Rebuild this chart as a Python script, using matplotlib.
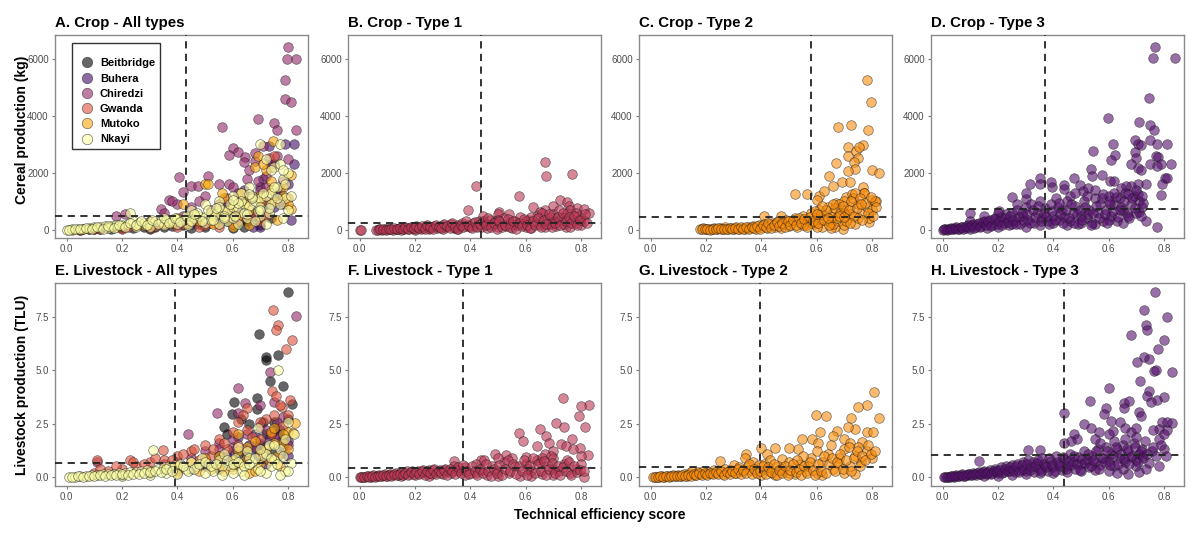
import matplotlib.pyplot as plt
import numpy as np
from matplotlib.lines import Line2D

plt.rcParams['font.family'] = ['Liberation Sans', 'DejaVu Sans']

districts = ['Beitbridge', 'Buhera', 'Chiredzi', 'Gwanda', 'Mutoko', 'Nkayi']
district_colors = ['#000004', '#420A68', '#932667', '#DD513A', '#FCA50A', '#FCFFA4']
type_colors = {'Type 1': '#BB3754', 'Type 2': '#F98C0A', 'Type 3': '#56106E'}

# --- Crop, all types (technical efficiency, cereal kg) per district ---
crop_all = {
    'Beitbridge': np.array([[0.05, 0], [0.12, 20], [0.2, 50], [0.28, 80], [0.35, 100], [0.42, 150], [0.5, 100],
                            [0.55, 200], [0.6, 50], [0.65, 300], [0.7, 150], [0.74, 400], [0.45, 50], [0.3, 30],
                            [0.62, 250], [0.68, 600], [0.72, 900], [0.08, 10], [0.16, 30], [0.24, 60], [0.32, 90],
                            [0.38, 120], [0.48, 200], [0.58, 300], [0.64, 100], [0.7, 400]]),
    'Buhera': np.array([[0.82, 3000], [0.82, 2310], [0.81, 330], [0.70, 93], [0.675, 93], [0.79, 3000], [0.65, 1000],
                        [0.7, 1500], [0.72, 700], [0.75, 800], [0.6, 600], [0.55, 400], [0.5, 300], [0.45, 200],
                        [0.4, 150], [0.3, 100], [0.2, 60], [0.1, 20], [0.76, 1200], [0.68, 500], [0.78, 900],
                        [0.73, 2950], [0.64, 1400], [0.58, 900], [0.35, 200], [0.48, 350], [0.53, 600], [0.62, 800],
                        [0.67, 1100], [0.71, 1800], [0.74, 2300], [0.77, 1400], [0.8, 1600]]),
    'Chiredzi': np.array([[0.80, 6420], [0.795, 6020], [0.83, 6020], [0.79, 5260], [0.79, 4610], [0.81, 4500],
                          [0.69, 3910], [0.56, 3620], [0.75, 3760], [0.76, 3500], [0.83, 3500], [0.60, 2890],
                          [0.62, 2720], [0.645, 2570], [0.585, 2640], [0.68, 2430], [0.73, 2540], [0.75, 2310],
                          [0.405, 1840], [0.51, 1900], [0.42, 1320], [0.45, 1540], [0.475, 1540], [0.37, 1030],
                          [0.34, 740], [0.21, 560], [0.18, 500], [0.55, 1600], [0.585, 1600], [0.35, 600],
                          [0.4, 900], [0.38, 1000], [0.45, 800], [0.5, 1200], [0.55, 900], [0.6, 1500], [0.62, 1300],
                          [0.65, 1800], [0.66, 2100], [0.7, 1400], [0.72, 1900], [0.74, 2200], [0.76, 2600],
                          [0.58, 1100], [0.64, 2400], [0.68, 2700], [0.71, 2950], [0.77, 1000], [0.8, 2500],
                          [0.3, 300], [0.42, 500], [0.52, 700], [0.57, 800], [0.63, 1000], [0.67, 1200],
                          [0.72, 1500], [0.78, 1700], [0.69, 1700], [0.48, 1000]]),
    'Gwanda': np.array([[0.1, 10], [0.2, 30], [0.3, 60], [0.4, 100], [0.5, 150], [0.6, 200], [0.7, 300],
                        [0.55, 80], [0.65, 400], [0.25, 120], [0.35, 200], [0.45, 300], [0.75, 2600], [0.8, 1100],
                        [0.72, 1000], [0.15, 80], [0.05, 0], [0.12, 40], [0.22, 80], [0.32, 120], [0.42, 200],
                        [0.52, 250], [0.62, 300], [0.67, 500], [0.72, 500], [0.58, 400], [0.48, 100]]),
    'Mutoko': np.array([[0.02, 0], [0.06, 30], [0.1, 60], [0.15, 100], [0.2, 120], [0.25, 180], [0.3, 200],
                        [0.35, 250], [0.4, 400], [0.42, 900], [0.5, 1600], [0.51, 1610], [0.55, 600], [0.6, 800],
                        [0.65, 1000], [0.7, 1200], [0.745, 3130], [0.76, 360], [0.81, 1940], [0.81, 735],
                        [0.72, 2100], [0.68, 2200], [0.78, 1500], [0.75, 1000], [0.62, 500], [0.48, 300],
                        [0.57, 1100], [0.69, 2600], [0.74, 1700], [0.66, 700], [0.08, 20], [0.18, 80], [0.28, 150],
                        [0.38, 220], [0.44, 250], [0.46, 500], [0.52, 500], [0.58, 700], [0.64, 900], [0.7, 1000],
                        [0.74, 1400], [0.78, 1200], [0.8, 900], [0.63, 1300], [0.56, 1300], [0.71, 2300],
                        [0.53, 200], [0.6, 100], [0.66, 150]]),
    'Nkayi': np.array([[0.0, 0], [0.02, 10], [0.04, 20], [0.06, 40], [0.08, 60], [0.1, 80], [0.12, 100],
                       [0.14, 120], [0.16, 140], [0.18, 160], [0.2, 180], [0.22, 200], [0.24, 300], [0.23, 580],
                       [0.26, 220], [0.28, 250], [0.3, 280], [0.32, 300], [0.34, 320], [0.36, 350], [0.38, 300],
                       [0.4, 380], [0.42, 350], [0.44, 400], [0.46, 420], [0.48, 500], [0.5, 450], [0.52, 600],
                       [0.54, 550], [0.56, 700], [0.58, 650], [0.6, 800], [0.62, 750], [0.64, 900], [0.66, 850],
                       [0.68, 1000], [0.7, 1100], [0.72, 1200], [0.74, 1300], [0.76, 1500], [0.78, 1800],
                       [0.8, 2000], [0.75, 2200], [0.77, 2300], [0.72, 2500], [0.70, 3000], [0.77, 3000],
                       [0.66, 1500], [0.63, 1300], [0.6, 1200], [0.55, 1000], [0.45, 700], [0.5, 900], [0.58, 300],
                       [0.62, 200], [0.65, 400], [0.7, 500], [0.73, 600], [0.35, 150], [0.25, 100], [0.15, 50],
                       [0.3, 100], [0.4, 200], [0.5, 250], [0.55, 200], [0.6, 400], [0.68, 300], [0.72, 200],
                       [0.8, 700], [0.78, 400], [0.44, 150], [0.52, 350], [0.57, 500], [0.64, 600], [0.7, 800],
                       [0.74, 900], [0.67, 1200], [0.79, 1100],
                       [0.01, 0], [0.03, 20], [0.05, 10], [0.07, 60], [0.09, 30], [0.11, 90], [0.13, 40],
                       [0.15, 130], [0.17, 70], [0.19, 180], [0.21, 110], [0.23, 230], [0.25, 150], [0.27, 300],
                       [0.29, 180], [0.31, 330], [0.33, 200], [0.35, 400], [0.37, 240], [0.39, 430], [0.41, 260],
                       [0.43, 500], [0.45, 300], [0.47, 600], [0.49, 320], [0.51, 700], [0.53, 350], [0.55, 800],
                       [0.57, 400], [0.59, 900], [0.61, 500], [0.63, 1000], [0.65, 550], [0.67, 1100], [0.69, 650],
                       [0.71, 1300], [0.73, 750], [0.75, 1500], [0.77, 900], [0.79, 1600], [0.81, 1200],
                       [0.46, 550], [0.54, 750], [0.62, 950], [0.7, 700], [0.76, 1100], [0.78, 2100], [0.74, 2100],
                       [0.6, 1050], [0.66, 1250]]),
}

# --- Crop by farm type ---
crop_t1 = np.array([
    [0.0, 0], [0.005, 0], [0.06, 0], [0.07, 10], [0.08, 0], [0.09, 20], [0.10, 10], [0.11, 30], [0.12, 0],
    [0.13, 40], [0.14, 20], [0.15, 50], [0.16, 10], [0.17, 60], [0.18, 30], [0.19, 80], [0.20, 40], [0.21, 100],
    [0.22, 20], [0.23, 70], [0.24, 120], [0.25, 50], [0.26, 90], [0.27, 140], [0.28, 60], [0.29, 110],
    [0.30, 170], [0.31, 80], [0.32, 130], [0.33, 200], [0.34, 60], [0.35, 150], [0.36, 100], [0.37, 250],
    [0.38, 120], [0.39, 180], [0.40, 80], [0.41, 220], [0.42, 140], [0.43, 300], [0.15, 0], [0.2, 0],
    [0.25, 10], [0.3, 20], [0.35, 30], [0.42, 1540], [0.39, 680], [0.445, 470], [0.505, 640], [0.50, 560],
    [0.54, 560], [0.575, 1200], [0.668, 2390], [0.674, 1900], [0.768, 1960], [0.628, 790], [0.724, 1060],
    [0.748, 990], [0.755, 850], [0.785, 770], [0.81, 735], [0.83, 600], [0.80, 410], [0.70, 830], [0.67, 680],
    [0.65, 640], [0.77, 330], [0.744, 93], [0.44, 100], [0.45, 250], [0.46, 50], [0.47, 350], [0.48, 150],
    [0.49, 300], [0.50, 80], [0.51, 200], [0.52, 400], [0.53, 120], [0.54, 250], [0.55, 60], [0.56, 300],
    [0.57, 150], [0.58, 450], [0.59, 200], [0.60, 100], [0.61, 350], [0.62, 50], [0.63, 250], [0.64, 500],
    [0.65, 150], [0.66, 300], [0.67, 80], [0.68, 400], [0.69, 200], [0.70, 550], [0.71, 120], [0.72, 300],
    [0.73, 450], [0.74, 200], [0.75, 600], [0.76, 100], [0.77, 350], [0.78, 250], [0.79, 500], [0.80, 150],
    [0.81, 300], [0.46, 200], [0.5, 350], [0.55, 200], [0.6, 300], [0.62, 450], [0.66, 600], [0.68, 200],
    [0.7, 300], [0.72, 700], [0.74, 400], [0.76, 700], [0.78, 600], [0.69, 450]])
crop_t1_more = np.array([
    [0.065, 5], [0.075, 20], [0.085, 15], [0.095, 5], [0.105, 40], [0.115, 10], [0.125, 50], [0.135, 25],
    [0.145, 60], [0.155, 30], [0.165, 80], [0.175, 20], [0.185, 90], [0.195, 50], [0.205, 120], [0.215, 60],
    [0.225, 140], [0.235, 30], [0.245, 160], [0.255, 80], [0.265, 40], [0.275, 180], [0.285, 100], [0.295, 50],
    [0.305, 200], [0.315, 120], [0.325, 60], [0.335, 250], [0.345, 110], [0.355, 40], [0.365, 180], [0.375, 90],
    [0.385, 300], [0.395, 130], [0.405, 60], [0.415, 280], [0.425, 100], [0.435, 200], [0.445, 300],
    [0.455, 150], [0.465, 420], [0.475, 80], [0.485, 250], [0.495, 30], [0.505, 300], [0.515, 100],
    [0.525, 180], [0.535, 380], [0.545, 100], [0.555, 300], [0.565, 20], [0.575, 250], [0.585, 120],
    [0.595, 380], [0.605, 180], [0.615, 60], [0.625, 300], [0.635, 150], [0.645, 420], [0.655, 80],
    [0.665, 350], [0.675, 200], [0.685, 550], [0.695, 100], [0.705, 250], [0.715, 450], [0.725, 150],
    [0.735, 600], [0.745, 300], [0.755, 450], [0.765, 250], [0.775, 500], [0.785, 180], [0.795, 350],
    [0.815, 550], [0.82, 250]])

crop_t2 = np.array([
    [0.78, 5250], [0.797, 4500], [0.786, 3500], [0.678, 3600], [0.725, 3700], [0.714, 2920], [0.713, 2600],
    [0.742, 2780], [0.766, 2990], [0.754, 2920], [0.749, 2520], [0.733, 2370], [0.67, 2360], [0.74, 2150],
    [0.798, 2100], [0.824, 2010], [0.714, 2050], [0.644, 1900], [0.66, 1550], [0.692, 1690], [0.72, 1670],
    [0.766, 1490], [0.52, 1260], [0.565, 1260], [0.61, 1200], [0.626, 1350], [0.60, 1030], [0.706, 1140],
    [0.728, 1260], [0.772, 1280], [0.80, 1030], [0.814, 1000], [0.41, 500], [0.47, 500], [0.788, 290],
    [0.695, 20], [0.665, 90], [0.18, 20], [0.19, 60], [0.2, 10], [0.21, 40], [0.22, 20], [0.23, 50], [0.24, 10],
    [0.25, 60], [0.26, 30], [0.27, 80], [0.28, 20], [0.29, 60], [0.3, 10], [0.31, 90], [0.32, 40], [0.33, 70],
    [0.34, 20], [0.35, 100], [0.36, 50], [0.37, 140], [0.38, 30], [0.39, 180], [0.40, 80], [0.41, 200],
    [0.42, 60], [0.43, 150], [0.44, 250], [0.45, 100], [0.46, 300], [0.47, 50], [0.48, 200], [0.49, 350],
    [0.5, 120], [0.51, 250], [0.52, 400], [0.53, 80], [0.54, 300], [0.55, 500], [0.56, 150], [0.57, 350],
    [0.58, 600], [0.59, 200], [0.6, 450], [0.61, 700], [0.62, 100], [0.63, 500], [0.64, 800], [0.65, 250],
    [0.66, 600], [0.67, 950], [0.68, 300], [0.69, 700], [0.70, 1000], [0.71, 400], [0.72, 800], [0.73, 1100],
    [0.74, 200], [0.75, 900], [0.76, 600], [0.77, 1300], [0.78, 800], [0.79, 400], [0.80, 700], [0.81, 1000],
    [0.60, 80], [0.65, 60], [0.70, 150], [0.75, 400], [0.62, 350], [0.66, 200], [0.72, 550], [0.68, 900],
    [0.74, 1300], [0.7, 600], [0.58, 250], [0.55, 150], [0.5, 300], [0.45, 200]])
crop_t2_more = np.array([
    [0.185, 40], [0.195, 10], [0.205, 30], [0.215, 5], [0.225, 40], [0.235, 20], [0.245, 50], [0.255, 10],
    [0.265, 40], [0.275, 10], [0.285, 50], [0.295, 30], [0.305, 60], [0.315, 20], [0.325, 80], [0.335, 30],
    [0.345, 90], [0.355, 40], [0.365, 100], [0.375, 60], [0.385, 120], [0.395, 40], [0.405, 160], [0.415, 100],
    [0.425, 220], [0.435, 60], [0.445, 180], [0.455, 280], [0.465, 120], [0.475, 220], [0.485, 80],
    [0.495, 300], [0.505, 180], [0.515, 350], [0.525, 150], [0.535, 420], [0.545, 220], [0.555, 380],
    [0.565, 100], [0.575, 450], [0.585, 300], [0.595, 650], [0.605, 250], [0.615, 550], [0.625, 350],
    [0.635, 700], [0.645, 150], [0.655, 450], [0.665, 750], [0.675, 400], [0.685, 600], [0.695, 850],
    [0.705, 300], [0.715, 700], [0.725, 1000], [0.735, 500], [0.745, 750], [0.755, 1100], [0.765, 350],
    [0.775, 950], [0.785, 600], [0.795, 1150], [0.805, 500], [0.815, 800], [0.6, 550], [0.64, 400], [0.68, 500],
    [0.72, 250], [0.76, 900], [0.7, 450], [0.66, 900], [0.62, 850]])

crop_t3 = np.array([
    [0.766, 6440], [0.761, 6035], [0.838, 6035], [0.745, 4620], [0.598, 3925], [0.71, 3790], [0.748, 3700],
    [0.762, 3520], [0.75, 3170], [0.774, 3000], [0.812, 3000], [0.694, 3150], [0.706, 3030], [0.718, 2980],
    [0.615, 3030], [0.544, 2780], [0.624, 2630], [0.61, 2460], [0.694, 2750], [0.697, 2520], [0.682, 2310],
    [0.707, 2170], [0.716, 2110], [0.77, 2600], [0.778, 2550], [0.748, 2310], [0.79, 2310], [0.826, 2310],
    [0.773, 2230], [0.537, 2150], [0.54, 1880], [0.577, 1920], [0.603, 1710], [0.619, 1710], [0.473, 1820],
    [0.396, 1500], [0.392, 1685], [0.352, 1820], [0.351, 1615], [0.314, 1615], [0.44, 1590], [0.438, 1420],
    [0.498, 1590], [0.507, 1360], [0.525, 1480], [0.802, 1820], [0.812, 1820], [0.793, 1615], [0.788, 1210],
    [0.736, 1615], [0.706, 1615], [0.682, 1535], [0.663, 1535], [0.645, 1480], [0.251, 1150], [0.30, 1070],
    [0.30, 1300], [0.268, 900], [0.099, 600], [0.205, 670], [0.736, 320], [0.774, 92], [0.71, 635],
    [0.0, 0], [0.01, 20], [0.02, 10], [0.03, 50], [0.04, 30], [0.05, 80], [0.06, 20], [0.07, 100], [0.08, 60],
    [0.09, 150], [0.10, 40], [0.11, 200], [0.12, 90], [0.13, 250], [0.14, 120], [0.15, 300], [0.16, 60],
    [0.17, 350], [0.18, 180], [0.19, 400], [0.20, 100], [0.21, 450], [0.22, 250], [0.23, 550], [0.24, 150],
    [0.25, 600], [0.26, 300], [0.27, 700], [0.28, 200], [0.29, 500], [0.30, 800], [0.31, 350], [0.32, 900],
    [0.33, 250], [0.34, 600], [0.35, 1000], [0.36, 400], [0.37, 750], [0.38, 300], [0.39, 900], [0.40, 500],
    [0.41, 1100], [0.42, 350], [0.43, 700], [0.44, 450], [0.45, 1000], [0.46, 300], [0.47, 600], [0.48, 850],
    [0.49, 200], [0.50, 500], [0.51, 1000], [0.52, 400], [0.53, 700], [0.54, 250], [0.55, 1100], [0.56, 600],
    [0.57, 900], [0.58, 300], [0.59, 700], [0.60, 1200], [0.61, 500], [0.62, 900], [0.63, 300], [0.64, 1100],
    [0.65, 700], [0.66, 1300], [0.67, 500], [0.68, 900], [0.69, 1200], [0.70, 600], [0.71, 1000], [0.72, 800],
    [0.2, 600], [0.15, 500], [0.1, 300], [0.25, 200], [0.3, 100], [0.35, 150], [0.4, 250], [0.45, 150],
    [0.5, 250], [0.55, 200], [0.6, 350], [0.65, 250]])
crop_t3_more = np.array([
    [0.005, 10], [0.015, 0], [0.025, 30], [0.035, 10], [0.045, 60], [0.055, 40], [0.065, 90], [0.075, 40],
    [0.085, 130], [0.095, 80], [0.105, 170], [0.115, 60], [0.125, 200], [0.135, 110], [0.145, 260],
    [0.155, 150], [0.165, 320], [0.175, 120], [0.185, 380], [0.195, 200], [0.205, 300], [0.215, 150],
    [0.225, 420], [0.235, 280], [0.245, 500], [0.255, 350], [0.265, 200], [0.275, 450], [0.285, 600],
    [0.295, 300], [0.305, 550], [0.315, 250], [0.325, 700], [0.335, 450], [0.345, 850], [0.355, 300],
    [0.365, 600], [0.375, 450], [0.385, 200], [0.395, 650], [0.405, 350], [0.415, 800], [0.425, 550],
    [0.435, 250], [0.445, 700], [0.455, 400], [0.465, 900], [0.475, 250], [0.485, 550], [0.495, 700],
    [0.505, 350], [0.515, 800], [0.525, 550], [0.535, 150], [0.545, 600], [0.555, 850], [0.565, 400],
    [0.575, 1100], [0.585, 550], [0.595, 250], [0.605, 900], [0.615, 650], [0.625, 1150], [0.635, 450],
    [0.645, 800], [0.655, 1000], [0.665, 600], [0.675, 400], [0.685, 1100], [0.695, 750], [0.705, 1250],
    [0.715, 500], [0.725, 950], [0.6, 1000], [0.58, 1250], [0.52, 1200], [0.46, 1200], [0.42, 950],
    [0.48, 1300], [0.55, 1400], [0.62, 1300], [0.67, 1250], [0.7, 1400], [0.72, 1200], [0.64, 700]])

# --- Livestock, all types (technical efficiency, TLU) per district ---
live_all = {
    'Beitbridge': np.array([[0.80, 8.67], [0.696, 6.69], [0.719, 5.64], [0.719, 5.48], [0.764, 5.72], [0.735, 4.5],
                            [0.782, 4.27], [0.687, 3.72], [0.815, 3.44], [0.606, 3.53], [0.596, 2.95], [0.686, 3.2],
                            [0.568, 2.34], [0.6, 0.5], [0.65, 1.0], [0.7, 1.5], [0.72, 2.0], [0.66, 2.5],
                            [0.55, 1.0], [0.5, 0.6], [0.4, 0.3], [0.3, 0.2], [0.2, 0.1], [0.75, 2.6], [0.78, 1.8],
                            [0.55, 0.4], [0.62, 1.1], [0.68, 1.3], [0.74, 1.2], [0.63, 2.7], [0.58, 2.0],
                            [0.71, 2.6], [0.77, 2.2], [0.8, 2.7]]),
    'Buhera': np.array([[0.6, 1.2], [0.65, 0.8], [0.7, 1.6], [0.72, 0.9], [0.75, 2.2], [0.78, 1.4], [0.8, 1.0],
                        [0.55, 0.7], [0.5, 0.5], [0.45, 0.4], [0.68, 2.0], [0.62, 1.9], [0.77, 1.1], [0.66, 1.5],
                        [0.5, 0.8], [0.58, 1.0], [0.64, 1.3], [0.69, 1.0], [0.73, 1.8], [0.76, 2.0], [0.8, 1.7],
                        [0.72, 0.6]]),
    'Chiredzi': np.array([[0.83, 7.55], [0.734, 4.94], [0.618, 4.19], [0.75, 3.52], [0.644, 3.48], [0.542, 3.02],
                          [0.44, 2.03], [0.5, 1.2], [0.55, 1.6], [0.6, 1.4], [0.65, 2.0], [0.7, 2.4], [0.75, 1.9],
                          [0.45, 0.9], [0.4, 0.7], [0.35, 0.6], [0.78, 2.8], [0.8, 1.5], [0.11, 0.7],
                          [0.55, 1.3], [0.6, 1.8], [0.68, 1.4], [0.72, 2.2], [0.76, 2.6], [0.62, 3.0], [0.7, 3.4]]),
    'Gwanda': np.array([[0.744, 7.83], [0.762, 7.12], [0.755, 6.89], [0.814, 6.41], [0.794, 6.02], [0.742, 4.03],
                        [0.758, 3.80], [0.778, 3.30], [0.807, 3.61], [0.65, 3.25], [0.638, 2.9], [0.349, 1.27],
                        [0.111, 0.78], [0.229, 0.78], [0.1, 0.2], [0.15, 0.3], [0.2, 0.4], [0.25, 0.5], [0.3, 0.7],
                        [0.35, 0.8], [0.4, 1.0], [0.45, 1.2], [0.5, 1.5], [0.55, 1.8], [0.6, 2.1], [0.62, 2.6],
                        [0.65, 2.2], [0.7, 1.8], [0.72, 2.7], [0.75, 2.9], [0.78, 2.4], [0.58, 1.3], [0.52, 1.0],
                        [0.48, 0.8], [0.12, 0.4], [0.18, 0.5], [0.24, 0.7], [0.28, 0.6], [0.32, 0.9], [0.38, 0.8],
                        [0.42, 1.1], [0.46, 1.3], [0.53, 1.3], [0.57, 1.6], [0.62, 1.5], [0.67, 1.9], [0.7, 2.6],
                        [0.74, 2.0], [0.77, 3.4], [0.8, 2.9]]),
    'Mutoko': np.array([[0.3, 0.3], [0.35, 0.4], [0.4, 0.5], [0.45, 0.7], [0.5, 0.9], [0.55, 1.0], [0.6, 0.8],
                        [0.62, 1.2], [0.65, 1.4], [0.68, 1.7], [0.7, 0.6], [0.72, 1.3], [0.74, 2.1], [0.76, 1.0],
                        [0.78, 1.6], [0.8, 2.1], [0.824, 2.55], [0.818, 2.08], [0.77, 0.5], [0.57, 0.3],
                        [0.66, 0.2], [0.75, 2.3], [0.52, 0.4], [0.63, 0.6], [0.4, 0.2], [0.48, 0.3], [0.55, 0.5],
                        [0.6, 0.4], [0.65, 0.9], [0.7, 1.1], [0.75, 1.6], [0.78, 2.0], [0.68, 0.3], [0.73, 0.8],
                        [0.8, 1.3], [0.62, 2.0]]),
    'Nkayi': np.array([[0.01, 0], [0.03, 0.02], [0.05, 0.04], [0.07, 0.06], [0.09, 0.08], [0.11, 0.1], [0.13, 0.12],
                       [0.15, 0.14], [0.17, 0.16], [0.19, 0.18], [0.21, 0.2], [0.23, 0.22], [0.25, 0.25],
                       [0.27, 0.3], [0.29, 0.35], [0.311, 1.27], [0.33, 0.4], [0.35, 0.45], [0.37, 0.5],
                       [0.39, 0.55], [0.41, 0.6], [0.43, 0.4], [0.45, 0.7], [0.47, 0.5], [0.49, 0.9], [0.51, 0.6],
                       [0.53, 0.3], [0.55, 0.8], [0.57, 1.1], [0.59, 0.5], [0.61, 0.9], [0.63, 0.3], [0.65, 1.2],
                       [0.67, 0.7], [0.69, 0.4], [0.71, 1.0], [0.73, 1.5], [0.75, 0.8], [0.77, 1.3], [0.79, 0.3],
                       [0.812, 0.64], [0.8, 2.6], [0.82, 2.0], [0.764, 5.0], [0.69, 2.3], [0.6, 0.2], [0.5, 0.2],
                       [0.4, 0.15], [0.72, 0.2], [0.77, 0.1], [0.3, 0.1], [0.2, 0.05], [0.56, 0.5], [0.66, 0.9],
                       [0.74, 0.5], [0.44, 0.3], [0.62, 1.4], [0.36, 0.2],
                       [0.02, 0.01], [0.04, 0.03], [0.06, 0.02], [0.08, 0.05], [0.1, 0.04], [0.12, 0.08],
                       [0.14, 0.06], [0.16, 0.1], [0.18, 0.08], [0.2, 0.12], [0.22, 0.1], [0.24, 0.15],
                       [0.26, 0.12], [0.28, 0.2], [0.3, 0.25], [0.32, 0.3], [0.34, 0.25], [0.36, 0.4], [0.38, 0.3],
                       [0.42, 0.5], [0.46, 0.4], [0.48, 0.6], [0.5, 0.7], [0.52, 0.5], [0.54, 0.6], [0.58, 0.8],
                       [0.6, 0.6], [0.62, 0.7], [0.64, 0.5], [0.66, 0.6], [0.68, 0.9], [0.7, 0.3], [0.72, 1.1],
                       [0.74, 0.9], [0.76, 0.6], [0.78, 1.0], [0.8, 0.3], [0.75, 1.5], [0.79, 1.8], [0.7, 1.3],
                       [0.56, 0.1], [0.64, 0.1]]),
}

# --- Livestock by farm type ---
live_t1 = np.array([
    [0.734, 3.73], [0.827, 3.39], [0.798, 3.33], [0.71, 2.55], [0.738, 2.34], [0.574, 2.08], [0.653, 2.27],
    [0.816, 2.36], [0.589, 1.70], [0.675, 1.92], [0.683, 1.61], [0.768, 1.80], [0.726, 1.56], [0.746, 1.45],
    [0.792, 2.86], [0.797, 1.38], [0.77, 1.30], [0.824, 1.02], [0.80, 0.98], [0.64, 1.45], [0.70, 1.20],
    [0.669, 1.06], [0.489, 1.06], [0.529, 1.02], [0.34, 0.75], [0.437, 0.80], [0.812, 0.02],
    [0.0, 0], [0.01, 0.02], [0.02, 0], [0.03, 0.05], [0.04, 0.02], [0.05, 0.08], [0.06, 0.03], [0.07, 0.1],
    [0.08, 0.05], [0.09, 0.12], [0.10, 0.06], [0.11, 0.15], [0.12, 0.08], [0.13, 0.2], [0.14, 0.1], [0.15, 0.25],
    [0.16, 0.12], [0.17, 0.3], [0.18, 0.15], [0.19, 0.28], [0.20, 0.1], [0.21, 0.3], [0.22, 0.18], [0.23, 0.35],
    [0.24, 0.2], [0.25, 0.32], [0.26, 0.12], [0.27, 0.4], [0.28, 0.25], [0.29, 0.35], [0.30, 0.15], [0.31, 0.4],
    [0.32, 0.28], [0.33, 0.2], [0.34, 0.5], [0.36, 0.3], [0.38, 0.45], [0.40, 0.2], [0.42, 0.6], [0.44, 0.35],
    [0.46, 0.1], [0.48, 0.5], [0.50, 0.3], [0.52, 0.7], [0.54, 0.2], [0.56, 0.5], [0.58, 0.05], [0.60, 0.6],
    [0.62, 0.3], [0.64, 0.8], [0.66, 0.15], [0.68, 0.5], [0.70, 0.9], [0.72, 0.3], [0.74, 0.6], [0.76, 0.2],
    [0.78, 0.4], [0.80, 0.6], [0.45, 0.8], [0.5, 0.9], [0.55, 0.9], [0.6, 0.95], [0.65, 0.7], [0.7, 0.4],
    [0.75, 0.8], [0.38, 0.1], [0.42, 0.2], [0.5, 0.05], [0.62, 0.05], [0.7, 0.1], [0.66, 0.9], [0.69, 1.0],
    [0.61, 0.4], [0.35, 0.35], [0.25, 0.05], [0.15, 0.05]])
live_t1_more = np.array([
    [0.005, 0.01], [0.015, 0.0], [0.025, 0.03], [0.035, 0.01], [0.045, 0.05], [0.055, 0.02], [0.065, 0.06],
    [0.075, 0.03], [0.085, 0.08], [0.095, 0.04], [0.105, 0.1], [0.115, 0.05], [0.125, 0.12], [0.135, 0.08],
    [0.145, 0.15], [0.155, 0.1], [0.165, 0.2], [0.175, 0.08], [0.185, 0.22], [0.195, 0.12], [0.205, 0.25],
    [0.215, 0.15], [0.225, 0.28], [0.235, 0.1], [0.245, 0.3], [0.255, 0.2], [0.265, 0.35], [0.275, 0.15],
    [0.285, 0.3], [0.295, 0.2], [0.305, 0.35], [0.315, 0.1], [0.325, 0.4], [0.335, 0.3], [0.345, 0.15],
    [0.355, 0.45], [0.365, 0.2], [0.375, 0.55], [0.385, 0.3], [0.395, 0.15], [0.405, 0.5], [0.415, 0.3],
    [0.425, 0.1], [0.435, 0.4], [0.445, 0.2], [0.455, 0.6], [0.465, 0.3], [0.475, 0.05], [0.485, 0.4],
    [0.495, 0.2], [0.505, 0.55], [0.515, 0.1], [0.525, 0.4], [0.535, 0.8], [0.545, 0.3], [0.555, 0.6],
    [0.565, 0.15], [0.575, 0.5], [0.585, 0.3], [0.595, 0.8], [0.605, 0.1], [0.615, 0.55], [0.625, 0.9],
    [0.635, 0.2], [0.645, 0.6], [0.655, 0.3], [0.665, 0.75], [0.675, 0.1], [0.685, 0.4], [0.695, 0.65],
    [0.705, 0.2], [0.715, 0.5], [0.725, 0.1], [0.735, 0.45], [0.745, 0.3], [0.755, 0.7], [0.765, 0.1],
    [0.775, 0.5], [0.785, 0.25], [0.795, 0.35], [0.81, 0.3]])

live_t2 = np.array([
    [0.806, 3.98], [0.78, 3.36], [0.749, 3.28], [0.826, 2.78], [0.724, 2.75], [0.599, 2.89], [0.634, 2.86],
    [0.613, 2.12], [0.547, 1.80], [0.672, 2.14], [0.782, 2.11], [0.803, 2.11], [0.74, 2.27], [0.712, 2.34],
    [0.583, 1.77], [0.603, 1.61], [0.66, 1.92], [0.699, 1.77], [0.764, 1.66], [0.531, 1.30], [0.499, 1.38],
    [0.45, 1.34], [0.399, 1.36], [0.343, 1.06], [0.251, 0.75], [0.475, 0.83], [0.422, 1.06], [0.74, 0.125],
    [0.01, 0], [0.02, 0.02], [0.03, 0], [0.04, 0.04], [0.05, 0.02], [0.06, 0.06], [0.07, 0.03], [0.08, 0.08],
    [0.09, 0.05], [0.10, 0.1], [0.11, 0.04], [0.12, 0.12], [0.13, 0.06], [0.14, 0.18], [0.15, 0.3], [0.16, 0.1],
    [0.17, 0.22], [0.18, 0.15], [0.19, 0.3], [0.20, 0.12], [0.21, 0.25], [0.22, 0.18], [0.23, 0.35], [0.24, 0.2],
    [0.25, 0.3], [0.26, 0.15], [0.27, 0.4], [0.28, 0.25], [0.29, 0.35], [0.30, 0.55], [0.31, 0.2], [0.32, 0.45],
    [0.33, 0.3], [0.34, 0.9], [0.35, 0.5], [0.36, 0.35], [0.37, 0.7], [0.38, 0.25], [0.39, 0.55], [0.40, 0.1],
    [0.41, 0.6], [0.42, 0.35], [0.43, 0.8], [0.44, 0.2], [0.46, 0.5], [0.48, 0.3], [0.50, 0.7], [0.52, 0.15],
    [0.54, 0.6], [0.56, 0.3], [0.58, 0.9], [0.60, 0.2], [0.62, 0.7], [0.64, 1.1], [0.66, 0.4], [0.68, 0.9],
    [0.70, 1.3], [0.72, 0.5], [0.74, 1.0], [0.76, 0.7], [0.78, 1.2], [0.80, 0.9], [0.6, 1.2], [0.65, 1.5],
    [0.7, 0.2], [0.55, 1.0], [0.5, 0.2], [0.45, 0.1], [0.62, 0.1], [0.72, 1.6], [0.75, 1.4], [0.68, 0.6],
    [0.57, 0.5], [0.53, 0.8], [0.47, 0.4]])
live_t2_more = np.array([
    [0.015, 0.01], [0.025, 0.0], [0.035, 0.03], [0.045, 0.01], [0.055, 0.04], [0.065, 0.02], [0.075, 0.05],
    [0.085, 0.03], [0.095, 0.07], [0.105, 0.04], [0.115, 0.09], [0.125, 0.05], [0.135, 0.1], [0.145, 0.06],
    [0.155, 0.15], [0.165, 0.08], [0.175, 0.2], [0.185, 0.1], [0.195, 0.18], [0.205, 0.08], [0.215, 0.2],
    [0.225, 0.12], [0.235, 0.25], [0.245, 0.15], [0.255, 0.3], [0.265, 0.1], [0.275, 0.25], [0.285, 0.15],
    [0.295, 0.3], [0.305, 0.2], [0.315, 0.4], [0.325, 0.15], [0.335, 0.35], [0.345, 0.2], [0.355, 0.6],
    [0.365, 0.15], [0.375, 0.4], [0.385, 0.2], [0.395, 0.3], [0.405, 0.5], [0.415, 0.15], [0.425, 0.45],
    [0.435, 0.25], [0.445, 0.6], [0.455, 0.1], [0.465, 0.35], [0.475, 0.2], [0.485, 0.5], [0.495, 0.1],
    [0.505, 0.35], [0.515, 0.6], [0.525, 0.25], [0.535, 0.4], [0.545, 0.1], [0.555, 0.5], [0.565, 0.2],
    [0.575, 0.7], [0.585, 0.35], [0.595, 0.1], [0.605, 0.6], [0.615, 0.3], [0.625, 1.0], [0.635, 0.2],
    [0.645, 0.6], [0.655, 0.9], [0.665, 0.3], [0.675, 0.7], [0.685, 1.1], [0.695, 0.4], [0.705, 0.8],
    [0.715, 1.4], [0.725, 0.3], [0.735, 0.9], [0.745, 1.2], [0.755, 0.5], [0.765, 1.0], [0.775, 0.8],
    [0.785, 1.5], [0.795, 1.1], [0.81, 1.2]])

live_t3 = np.array([
    [0.768, 8.67], [0.726, 7.83], [0.812, 7.52], [0.734, 7.12], [0.74, 6.89], [0.68, 6.66], [0.798, 6.41],
    [0.777, 6.02], [0.728, 5.64], [0.746, 5.55], [0.704, 5.39], [0.764, 4.97], [0.772, 5.0], [0.83, 4.92],
    [0.714, 4.5], [0.60, 4.17], [0.747, 4.03], [0.74, 3.80], [0.80, 3.75], [0.774, 3.59], [0.752, 3.52],
    [0.533, 3.55], [0.656, 3.48], [0.674, 3.56], [0.656, 3.22], [0.437, 3.02], [0.589, 3.25], [0.583, 2.94],
    [0.71, 3.06], [0.718, 2.86], [0.792, 2.58], [0.81, 2.58], [0.83, 2.55], [0.782, 2.23], [0.81, 2.19],
    [0.511, 2.47], [0.535, 2.31], [0.566, 2.11], [0.608, 2.62], [0.617, 2.16], [0.475, 2.03], [0.487, 1.77],
    [0.463, 1.69], [0.439, 1.58], [0.756, 1.22], [0.80, 1.33], [0.806, 0.98], [0.782, 0.52], [0.744, 0.67],
    [0.71, 0.25], [0.734, 0.36], [0.668, 0.125], [0.31, 1.27], [0.353, 1.25], [0.132, 0.73],
    [0.01, 0], [0.02, 0.02], [0.03, 0.05], [0.04, 0.01], [0.05, 0.08], [0.06, 0.04], [0.07, 0.12], [0.08, 0.06],
    [0.09, 0.15], [0.10, 0.1], [0.11, 0.2], [0.12, 0.08], [0.13, 0.25], [0.14, 0.15], [0.15, 0.3], [0.16, 0.12],
    [0.17, 0.35], [0.18, 0.2], [0.19, 0.4], [0.20, 0.18], [0.21, 0.45], [0.22, 0.25], [0.23, 0.5], [0.24, 0.3],
    [0.25, 0.55], [0.26, 0.22], [0.27, 0.6], [0.28, 0.35], [0.29, 0.7], [0.30, 0.3], [0.31, 0.8], [0.32, 0.45],
    [0.33, 0.25], [0.34, 0.65], [0.35, 0.4], [0.36, 0.9], [0.37, 0.5], [0.38, 0.3], [0.39, 0.75], [0.40, 0.45],
    [0.41, 1.0], [0.42, 0.6], [0.43, 0.35], [0.44, 0.85], [0.45, 0.5], [0.46, 1.1], [0.47, 0.7], [0.48, 0.4],
    [0.49, 0.95], [0.50, 0.6], [0.51, 1.2], [0.52, 0.8], [0.53, 0.45], [0.54, 1.0], [0.55, 0.7], [0.56, 1.3],
    [0.57, 0.55], [0.58, 0.9], [0.59, 1.4], [0.60, 0.75], [0.61, 1.1], [0.62, 0.5], [0.63, 1.3], [0.64, 0.9],
    [0.65, 1.5], [0.66, 0.7], [0.67, 1.2], [0.68, 0.95], [0.69, 1.6], [0.70, 0.8], [0.71, 1.1], [0.72, 1.3],
    [0.15, 0.05], [0.2, 0.05], [0.25, 0.1], [0.3, 0.15], [0.35, 0.2], [0.4, 0.2], [0.45, 0.25], [0.5, 0.3],
    [0.55, 0.35], [0.6, 0.3], [0.65, 0.4], [0.7, 0.5], [0.63, 0.2], [0.57, 1.6], [0.62, 1.7], [0.66, 1.8],
    [0.68, 2.1], [0.7, 1.9], [0.72, 1.0]])
live_t3_more = np.array([
    [0.005, 0.0], [0.015, 0.02], [0.025, 0.01], [0.035, 0.04], [0.045, 0.03], [0.055, 0.06], [0.065, 0.08],
    [0.075, 0.05], [0.085, 0.1], [0.095, 0.12], [0.105, 0.08], [0.115, 0.15], [0.125, 0.18], [0.135, 0.12],
    [0.145, 0.22], [0.155, 0.2], [0.165, 0.25], [0.175, 0.15], [0.185, 0.3], [0.195, 0.28], [0.205, 0.35],
    [0.215, 0.2], [0.225, 0.4], [0.235, 0.3], [0.245, 0.45], [0.255, 0.35], [0.265, 0.5], [0.275, 0.25],
    [0.285, 0.55], [0.295, 0.4], [0.305, 0.6], [0.315, 0.35], [0.325, 0.7], [0.335, 0.5], [0.345, 0.8],
    [0.355, 0.3], [0.365, 0.6], [0.375, 0.45], [0.385, 0.9], [0.395, 0.55], [0.405, 0.3], [0.415, 0.7],
    [0.425, 0.5], [0.435, 0.95], [0.445, 0.4], [0.455, 0.75], [0.465, 0.55], [0.475, 1.0], [0.485, 0.6],
    [0.495, 0.35], [0.505, 0.85], [0.515, 0.65], [0.525, 1.1], [0.535, 0.5], [0.545, 0.8], [0.555, 1.2],
    [0.565, 0.4], [0.575, 0.9], [0.585, 0.7], [0.595, 1.2], [0.605, 0.55], [0.615, 1.0], [0.625, 1.4],
    [0.635, 0.6], [0.645, 1.1], [0.655, 0.85], [0.665, 1.3], [0.675, 0.6], [0.685, 1.0], [0.695, 1.4],
    [0.705, 0.7], [0.715, 1.2], [0.725, 0.9], [0.74, 1.1], [0.76, 1.4], [0.77, 1.0], [0.79, 1.5], [0.78, 1.8],
    [0.8, 2.0], [0.76, 2.2], [0.73, 1.7], [0.7, 2.3], [0.66, 2.3], [0.64, 2.6], [0.6, 2.0], [0.55, 1.8]])

# cut-off lines (vertical: efficiency, horizontal: production)
cut_te = [0.433, 0.438, 0.581, 0.37, 0.39, 0.375, 0.396, 0.438]
cut_prod = [490, 235, 456, 726, 0.67, 0.41, 0.47, 1.02]
titles = ['A. Crop - All types', 'B. Crop - Type 1', 'C. Crop - Type 2', 'D. Crop - Type 3',
          'E. Livestock - All types', 'F. Livestock - Type 1', 'G. Livestock - Type 2', 'H. Livestock - Type 3']

W, H = 1200, 533
fig = plt.figure(figsize=(12, 5.33), dpi=100)

col_left = [55, 348, 639, 931]
row_top = [35, 283]
panel_w, panel_h = 253, 203

MS = 48
EDGE = '#1a1a1a'


def style(ax, row):
    ax.set_xlim(-0.042, 0.872)
    if row == 0:
        ax.set_ylim(-290, 6850)
        ax.set_yticks([0, 2000, 4000, 6000])
    else:
        ax.set_ylim(-0.42, 9.1)
        ax.set_yticks([0, 2.5, 5, 7.5])
        ax.set_yticklabels(['0.0', '2.5', '5.0', '7.5'])
    ax.set_xticks([0, 0.2, 0.4, 0.6, 0.8])
    ax.set_xticklabels(['0.0', '0.2', '0.4', '0.6', '0.8'])
    for s in ax.spines.values():
        s.set_color('#8a8a8a')
        s.set_linewidth(1.0)
    ax.tick_params(length=2.5, width=0.8, color='#7a7a7a', labelcolor='#4d4d4d', labelsize=7, pad=2)


axes = []
for r in range(2):
    for c in range(4):
        left = col_left[c] / W
        bottom = 1 - (row_top[r] + panel_h) / H
        ax = fig.add_axes([left, bottom, panel_w / W, panel_h / H])
        style(ax, r)
        axes.append(ax)

# combined panels coloured by district
for ax, data in [(axes[0], crop_all), (axes[4], live_all)]:
    for d, col in zip(districts, district_colors):
        pts = data[d]
        ax.scatter(pts[:, 0], pts[:, 1], s=MS, c=col, edgecolors=EDGE, linewidths=0.5, alpha=0.6, zorder=2)

# panels by farm type
type_panels = [(axes[1], np.vstack([crop_t1, crop_t1_more]), 'Type 1'),
               (axes[2], np.vstack([crop_t2, crop_t2_more]), 'Type 2'),
               (axes[3], np.vstack([crop_t3, crop_t3_more]), 'Type 3'),
               (axes[5], np.vstack([live_t1, live_t1_more]), 'Type 1'),
               (axes[6], np.vstack([live_t2, live_t2_more]), 'Type 2'),
               (axes[7], np.vstack([live_t3, live_t3_more]), 'Type 3')]
for ax, pts, t in type_panels:
    ax.scatter(pts[:, 0], pts[:, 1], s=MS, c=type_colors[t], edgecolors=EDGE, linewidths=0.5, alpha=0.6, zorder=2)

for i, ax in enumerate(axes):
    ax.axvline(cut_te[i], color='#222222', lw=1.3, ls=(0, (4, 3)), zorder=3)
    ax.axhline(cut_prod[i], color='#222222', lw=1.3, ls=(0, (4, 3)), zorder=3)
    ax.set_title(titles[i], loc='left', fontsize=10.8, fontweight='bold', pad=6, x=0.0)

handles = [Line2D([0], [0], marker='o', ls='', markersize=7.5, markerfacecolor=col, markeredgecolor=EDGE,
                  markeredgewidth=0.5, alpha=0.6) for col in district_colors]
leg = axes[0].legend(handles, districts, loc='upper left', bbox_to_anchor=(0.068, 0.96), borderaxespad=0,
                     frameon=True, fancybox=False, edgecolor='black', prop={'weight': 'bold', 'size': 8.0},
                     handletextpad=0.35, labelspacing=0.47, borderpad=0.45, handlelength=1.7,
                     title=' ', title_fontsize=4.5)
leg.get_frame().set_linewidth(1.0)

fig.text(22.5 / W, 1 - 129.5 / H, 'Cereal production (kg)', rotation=90, ha='center', va='center',
         fontsize=10, fontweight='bold')
fig.text(22.5 / W, 1 - 385 / H, 'Livestock production (TLU)', rotation=90, ha='center', va='center',
         fontsize=10, fontweight='bold')
fig.text(600 / W, 1 - 515 / H, 'Technical efficiency score', ha='center', va='center',
         fontsize=10, fontweight='bold')

fig.savefig('out.png', dpi=100)
